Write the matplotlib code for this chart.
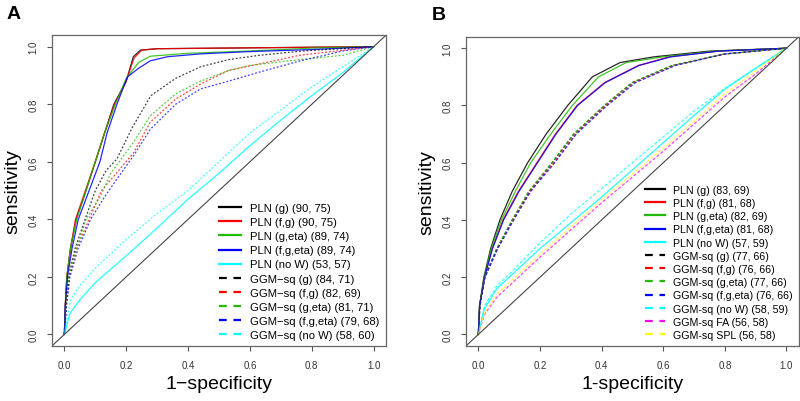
import matplotlib.pyplot as plt
from matplotlib.lines import Line2D

plt.rcParams['font.family'] = ['Liberation Sans', 'DejaVu Sans']

# ---- panel A data (1-specificity, sensitivity) ----
a_names = ["PLN (g) (90, 75)", "PLN (f,g) (90, 75)", "PLN (g,eta) (89, 74)",
           "PLN (f,g,eta) (89, 74)", "PLN (no W) (53, 57)",
           "GGM\u2212sq (g) (84, 71)", "GGM\u2212sq (f,g) (82, 69)",
           "GGM\u2212sq (g,eta) (81, 71)", "GGM\u2212sq (f,g,eta) (79, 68)",
           "GGM\u2212sq (no W) (58, 60)"]
a_x = [
    [0, 0.003, 0.008, 0.02, 0.038, 0.07, 0.1, 0.13, 0.16, 0.2, 0.223, 0.246, 0.3, 0.5, 1],
    [0, 0.003, 0.008, 0.02, 0.036, 0.068, 0.1, 0.13, 0.162, 0.2, 0.225, 0.25, 0.3, 0.5, 1],
    [0, 0.003, 0.008, 0.02, 0.04, 0.07, 0.1, 0.13, 0.165, 0.2, 0.24, 0.278, 0.4, 0.6, 0.8, 1],
    [0, 0.003, 0.01, 0.025, 0.045, 0.08, 0.115, 0.138, 0.17, 0.204, 0.24, 0.278, 0.333, 0.44, 0.6, 0.8, 1],
    [0, 0.018, 0.05, 0.1, 0.223, 0.3, 0.4, 0.5, 0.6, 0.7, 0.8, 0.9, 1],
    [0, 0.005, 0.013, 0.035, 0.067, 0.1, 0.135, 0.17, 0.22, 0.28, 0.36, 0.44, 0.53, 0.63, 0.77, 1],
    [0, 0.006, 0.016, 0.04, 0.08, 0.12, 0.16, 0.223, 0.278, 0.36, 0.44, 0.53, 0.76, 1],
    [0, 0.006, 0.015, 0.04, 0.07, 0.117, 0.15, 0.223, 0.278, 0.36, 0.44, 0.53, 0.6, 0.76, 0.9, 1],
    [0, 0.007, 0.018, 0.045, 0.085, 0.125, 0.17, 0.223, 0.278, 0.36, 0.44, 0.53, 0.625, 0.76, 0.9, 1],
    [0, 0.02, 0.05, 0.1, 0.2, 0.3, 0.4, 0.5, 0.6, 0.7, 0.8, 0.9, 1],
]
a_y = [
    [0, 0.1, 0.2, 0.3, 0.4, 0.5, 0.6, 0.7, 0.8, 0.88, 0.965, 0.988, 0.993, 0.995, 1],
    [0, 0.1, 0.2, 0.3, 0.4, 0.5, 0.6, 0.7, 0.8, 0.88, 0.96, 0.988, 0.993, 0.995, 1],
    [0, 0.1, 0.2, 0.3, 0.4, 0.5, 0.6, 0.7, 0.8, 0.89, 0.945, 0.967, 0.977, 0.985, 0.995, 1],
    [0, 0.1, 0.2, 0.3, 0.4, 0.5, 0.6, 0.7, 0.8, 0.895, 0.925, 0.951, 0.965, 0.975, 0.983, 0.99, 1],
    [0, 0.073, 0.12, 0.18, 0.295, 0.37, 0.47, 0.56, 0.656, 0.745, 0.83, 0.91, 1],
    [0, 0.1, 0.2, 0.3, 0.4, 0.5, 0.57, 0.61, 0.72, 0.83, 0.89, 0.93, 0.955, 0.97, 0.985, 1],
    [0, 0.1, 0.2, 0.3, 0.4, 0.5, 0.55, 0.63, 0.738, 0.818, 0.87, 0.917, 0.97, 1],
    [0, 0.1, 0.2, 0.3, 0.4, 0.48, 0.56, 0.667, 0.76, 0.836, 0.88, 0.917, 0.935, 0.955, 0.97, 1],
    [0, 0.1, 0.2, 0.3, 0.4, 0.47, 0.54, 0.62, 0.713, 0.8, 0.853, 0.88, 0.91, 0.95, 0.985, 1],
    [0, 0.12, 0.17, 0.23, 0.33, 0.42, 0.5, 0.6, 0.7, 0.78, 0.86, 0.93, 1],
]
a_colors = ["black", "red", "#22bb00", "blue", "cyan"] * 2
a_dashed = [False] * 5 + [True] * 5

# ---- panel B data ----
b_names = ["PLN (g) (83, 69)", "PLN (f,g) (81, 68)", "PLN (g,eta) (82, 69)",
           "PLN (f,g,eta) (81, 68)", "PLN (no W) (57, 59)",
           "GGM-sq (g) (77, 66)", "GGM-sq (f,g) (76, 66)", "GGM-sq (g,eta) (77, 66)",
           "GGM-sq (f,g,eta) (76, 66)", "GGM-sq (no W) (58, 59)",
           "GGM-sq FA (56, 58)", "GGM-sq SPL (56, 58)"]
b_x = [
    [0, 0.004, 0.018, 0.04, 0.07, 0.11, 0.16, 0.22, 0.29, 0.37, 0.46, 0.57, 0.75, 1],
    [0, 0.004, 0.02, 0.045, 0.08, 0.13, 0.19, 0.25, 0.32, 0.41, 0.52, 0.62, 0.78, 1],
    [0, 0.004, 0.019, 0.042, 0.075, 0.12, 0.17, 0.235, 0.305, 0.39, 0.48, 0.6, 0.77, 1],
    [0, 0.004, 0.02, 0.046, 0.082, 0.132, 0.192, 0.252, 0.322, 0.412, 0.522, 0.625, 0.78, 1],
    [0, 0.02, 0.06, 0.1, 0.2, 0.3, 0.4, 0.5, 0.6, 0.7, 0.8, 0.9, 1],
    [0, 0.005, 0.02, 0.06, 0.11, 0.165, 0.24, 0.31, 0.41, 0.5, 0.63, 0.8, 1],
    [0, 0.005, 0.021, 0.062, 0.113, 0.168, 0.245, 0.315, 0.415, 0.505, 0.635, 0.8, 1],
    [0, 0.005, 0.02, 0.06, 0.11, 0.163, 0.238, 0.308, 0.408, 0.498, 0.628, 0.8, 1],
    [0, 0.005, 0.022, 0.063, 0.115, 0.17, 0.248, 0.318, 0.418, 0.51, 0.64, 0.8, 1],
    [0, 0.02, 0.06, 0.1, 0.2, 0.3, 0.4, 0.5, 0.6, 0.7, 0.8, 0.9, 1],
    [0, 0.02, 0.06, 0.1, 0.2, 0.3, 0.4, 0.5, 0.6, 0.7, 0.8, 0.9, 1],
    [0, 0.02, 0.06, 0.1, 0.2, 0.3, 0.4, 0.5, 0.6, 0.7, 0.8, 0.9, 1],
]
b_y = [
    [0, 0.1, 0.2, 0.3, 0.4, 0.5, 0.6, 0.7, 0.8, 0.9, 0.95, 0.97, 0.99, 1],
    [0, 0.1, 0.2, 0.3, 0.4, 0.5, 0.6, 0.7, 0.8, 0.88, 0.94, 0.97, 0.99, 1],
    [0, 0.1, 0.2, 0.3, 0.4, 0.5, 0.6, 0.7, 0.8, 0.9, 0.95, 0.97, 0.99, 1],
    [0, 0.1, 0.2, 0.3, 0.4, 0.5, 0.6, 0.7, 0.8, 0.88, 0.94, 0.97, 0.99, 1],
    [0, 0.09, 0.16, 0.2, 0.3, 0.39, 0.48, 0.575, 0.67, 0.765, 0.857, 0.93, 1],
    [0, 0.1, 0.2, 0.3, 0.4, 0.5, 0.6, 0.7, 0.8, 0.88, 0.94, 0.98, 1],
    [0, 0.1, 0.2, 0.3, 0.4, 0.5, 0.6, 0.7, 0.8, 0.88, 0.94, 0.98, 1],
    [0, 0.1, 0.2, 0.3, 0.4, 0.5, 0.6, 0.7, 0.8, 0.88, 0.94, 0.98, 1],
    [0, 0.1, 0.2, 0.3, 0.4, 0.5, 0.6, 0.7, 0.8, 0.88, 0.94, 0.98, 1],
    [0, 0.1, 0.17, 0.21, 0.32, 0.42, 0.51, 0.6, 0.69, 0.78, 0.86, 0.93, 1],
    [0, 0.07, 0.13, 0.17, 0.27, 0.365, 0.46, 0.55, 0.64, 0.735, 0.83, 0.91, 1],
    [0, 0.075, 0.14, 0.18, 0.28, 0.375, 0.47, 0.56, 0.65, 0.745, 0.84, 0.92, 1],
]
b_colors = ["black", "red", "#22bb00", "blue", "cyan",
            "black", "red", "#22bb00", "blue", "cyan", "magenta", "yellow"]
b_dashed = [False] * 5 + [True] * 7

ticks = [0.0, 0.2, 0.4, 0.6, 0.8, 1.0]
tick_labels = ["0.0", "0.2", "0.4", "0.6", "0.8", "1.0"]


def roc_panel(ax, xs, ys, names, colors, dashed, dash, xlabel,
              fs, hlen, spacing):
    handles = []
    for x, y, name, c, d in zip(xs, ys, names, colors, dashed):
        ls = (0, dash) if d else '-'
        ax.plot(x, y, color=c, lw=0.9, ls=ls, alpha=0.75 if d else 0.85)
        handles.append(Line2D([], [], color=c, lw=1.6,
                              ls=(0, (3.5, 3)) if d else '-', label=name))
    ax.axline((0, 0), (1, 1), color='#444444', lw=0.8)
    ax.set_xlim(-0.04, 1.04)
    ax.set_ylim(-0.04, 1.04)
    ax.set_xticks(ticks, tick_labels)
    ax.set_yticks(ticks, tick_labels)
    ax.tick_params(labelsize=7, colors='#555555', labelcolor='#333333',
                   length=3.8, width=0.8, pad=6)
    for lab in ax.get_yticklabels():
        lab.set_rotation(90)
        lab.set_va('center')
    for s in ax.spines.values():
        s.set_color('#666666')
        s.set_linewidth(0.9)
    ax.set_xlabel(xlabel, fontsize=14, labelpad=4)
    ax.set_ylabel('sensitivity', fontsize=14, labelpad=5)
    ax.legend(handles=handles, loc='lower right', frameon=False,
              fontsize=fs, handlelength=hlen, handletextpad=0.82,
              labelspacing=spacing, borderaxespad=0.15)


fig = plt.figure(figsize=(8, 4.02), dpi=100)
axA = fig.add_axes([0.065, 0.137, 0.4175, 0.773])
axB = fig.add_axes([0.5825, 0.137, 0.416, 0.769])

roc_panel(axA, a_x, a_y, a_names, a_colors, a_dashed, (1.5, 1.5),
          '1\u2212specificity', 8.1, 1.95, 0.36)
roc_panel(axB, b_x, b_y, b_names, b_colors, b_dashed, (2.5, 1.5),
          '1-specificity', 7.7, 1.86, 0.3)

fig.text(0.008, 0.965, 'A', fontsize=14, fontweight='bold', va='center')
fig.text(0.54, 0.962, 'B', fontsize=14, fontweight='bold', va='center')

fig.savefig('out.png', dpi=100)
